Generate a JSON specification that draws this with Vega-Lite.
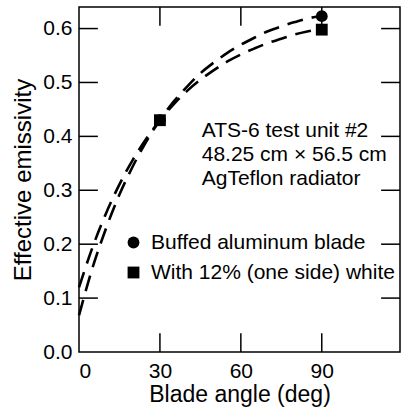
{
  "$schema": "https://vega.github.io/schema/vega-lite/v6.json",
  "width": 321,
  "height": 345,
  "autosize": {"type": "none"},
  "padding": {"left": 79, "top": 7, "right": 1, "bottom": 58},
  "config": {
    "font": "Liberation Sans",
    "view": {"stroke": "black", "strokeWidth": 1.5, "fill": null}
  },
  "datasets": {
    "curves": [
      {"series": "Buffed aluminum blade", "angle": 0, "emissivity": 0.068},
      {"series": "Buffed aluminum blade", "angle": 5, "emissivity": 0.156},
      {"series": "Buffed aluminum blade", "angle": 10, "emissivity": 0.229},
      {"series": "Buffed aluminum blade", "angle": 15, "emissivity": 0.292},
      {"series": "Buffed aluminum blade", "angle": 20, "emissivity": 0.345},
      {"series": "Buffed aluminum blade", "angle": 25, "emissivity": 0.391},
      {"series": "Buffed aluminum blade", "angle": 30, "emissivity": 0.43},
      {"series": "Buffed aluminum blade", "angle": 35, "emissivity": 0.464},
      {"series": "Buffed aluminum blade", "angle": 40, "emissivity": 0.492},
      {"series": "Buffed aluminum blade", "angle": 45, "emissivity": 0.517},
      {"series": "Buffed aluminum blade", "angle": 50, "emissivity": 0.537},
      {"series": "Buffed aluminum blade", "angle": 55, "emissivity": 0.555},
      {"series": "Buffed aluminum blade", "angle": 60, "emissivity": 0.57},
      {"series": "Buffed aluminum blade", "angle": 65, "emissivity": 0.583},
      {"series": "Buffed aluminum blade", "angle": 70, "emissivity": 0.595},
      {"series": "Buffed aluminum blade", "angle": 75, "emissivity": 0.604},
      {"series": "Buffed aluminum blade", "angle": 80, "emissivity": 0.612},
      {"series": "Buffed aluminum blade", "angle": 85, "emissivity": 0.619},
      {"series": "Buffed aluminum blade", "angle": 88, "emissivity": 0.622},
      {"series": "With 12% (one side) white", "angle": 0, "emissivity": 0.12},
      {"series": "With 12% (one side) white", "angle": 5, "emissivity": 0.194},
      {"series": "With 12% (one side) white", "angle": 10, "emissivity": 0.257},
      {"series": "With 12% (one side) white", "angle": 15, "emissivity": 0.311},
      {"series": "With 12% (one side) white", "angle": 20, "emissivity": 0.357},
      {"series": "With 12% (one side) white", "angle": 25, "emissivity": 0.396},
      {"series": "With 12% (one side) white", "angle": 30, "emissivity": 0.43},
      {"series": "With 12% (one side) white", "angle": 35, "emissivity": 0.459},
      {"series": "With 12% (one side) white", "angle": 40, "emissivity": 0.484},
      {"series": "With 12% (one side) white", "angle": 45, "emissivity": 0.505},
      {"series": "With 12% (one side) white", "angle": 50, "emissivity": 0.523},
      {"series": "With 12% (one side) white", "angle": 55, "emissivity": 0.539},
      {"series": "With 12% (one side) white", "angle": 60, "emissivity": 0.552},
      {"series": "With 12% (one side) white", "angle": 65, "emissivity": 0.563},
      {"series": "With 12% (one side) white", "angle": 70, "emissivity": 0.573},
      {"series": "With 12% (one side) white", "angle": 75, "emissivity": 0.581},
      {"series": "With 12% (one side) white", "angle": 80, "emissivity": 0.589},
      {"series": "With 12% (one side) white", "angle": 85, "emissivity": 0.595},
      {"series": "With 12% (one side) white", "angle": 88, "emissivity": 0.598}
    ],
    "points": [
      {"series": "Buffed aluminum blade", "angle": 30, "emissivity": 0.43},
      {"series": "Buffed aluminum blade", "angle": 90, "emissivity": 0.623},
      {"series": "With 12% (one side) white", "angle": 30, "emissivity": 0.43},
      {"series": "With 12% (one side) white", "angle": 90, "emissivity": 0.598}
    ],
    "notes": [
      {"angle": 45.5, "emissivity": 0.398, "text": "ATS-6 test unit #2"},
      {"angle": 45.5, "emissivity": 0.354, "text": "48.25 cm × 56.5 cm"},
      {"angle": 45.5, "emissivity": 0.31, "text": "AgTeflon radiator"}
    ],
    "xticks": [{"angle": 30}, {"angle": 60}, {"angle": 90}],
    "yticks": [{"emissivity": 0.1}, {"emissivity": 0.2}, {"emissivity": 0.3}, {"emissivity": 0.4}, {"emissivity": 0.5}, {"emissivity": 0.6}]
  },
  "layer": [
    {
      "data": {"name": "xticks"},
      "mark": {"type": "rule", "color": "black", "strokeWidth": 1.5},
      "encoding": {
        "x": {"field": "angle", "type": "quantitative", "scale": {"domain": [0, 119], "nice": false, "zero": false},
              "axis": {"orient": "bottom", "values": [0, 30, 60, 90], "format": "d", "title": "Blade angle (deg)",
                       "ticks": false, "tickSize": 0, "domain": false, "grid": false,
                       "labelPadding": 8, "labelFontSize": 21, "labelColor": "black", "labelFont": "Liberation Sans",
                       "titleFontSize": 23, "titleFontWeight": "normal", "titleColor": "black", "titleFont": "Liberation Sans", "titlePadding": 2}},
        "y": {"datum": 0, "type": "quantitative", "scale": {"domain": [0, 0.64], "nice": false},
              "axis": {"orient": "left", "values": [0, 0.1, 0.2, 0.3, 0.4, 0.5, 0.6], "format": ".1f", "title": "Effective emissivity",
                       "ticks": false, "tickSize": 0, "domain": false, "grid": false,
                       "labelPadding": 7, "labelFontSize": 21, "labelColor": "black", "labelFont": "Liberation Sans",
                       "titleFontSize": 24, "titleFontWeight": "normal", "titleColor": "black", "titleFont": "Liberation Sans", "titlePadding": 7}},
        "y2": {"datum": 0.035}
      }
    },
    {
      "data": {"name": "xticks"},
      "mark": {"type": "rule", "color": "black", "strokeWidth": 1.5},
      "encoding": {
        "x": {"field": "angle", "type": "quantitative"},
        "y": {"datum": 0.64, "type": "quantitative"},
        "y2": {"datum": 0.605}
      }
    },
    {
      "data": {"name": "yticks"},
      "mark": {"type": "rule", "color": "black", "strokeWidth": 1.5},
      "encoding": {
        "y": {"field": "emissivity", "type": "quantitative"},
        "x": {"datum": 0, "type": "quantitative"},
        "x2": {"datum": 7}
      }
    },
    {
      "data": {"name": "yticks"},
      "mark": {"type": "rule", "color": "black", "strokeWidth": 1.5},
      "encoding": {
        "y": {"field": "emissivity", "type": "quantitative"},
        "x": {"datum": 119, "type": "quantitative"},
        "x2": {"datum": 112}
      }
    },
    {
      "data": {"name": "curves"},
      "mark": {"type": "line", "color": "black", "strokeWidth": 2.6, "strokeDash": [16, 9], "interpolate": "monotone"},
      "encoding": {
        "x": {"field": "angle", "type": "quantitative"},
        "y": {"field": "emissivity", "type": "quantitative"},
        "detail": {"field": "series", "type": "nominal"}
      }
    },
    {
      "data": {"name": "points"},
      "mark": {"type": "point", "filled": true, "color": "black", "opacity": 1, "size": 140},
      "encoding": {
        "x": {"field": "angle", "type": "quantitative"},
        "y": {"field": "emissivity", "type": "quantitative"},
        "shape": {"field": "series", "type": "nominal",
                  "scale": {"domain": ["Buffed aluminum blade", "With 12% (one side) white"], "range": ["circle", "square"]},
                  "legend": {"orient": "none", "legendX": 44, "legendY": 225, "title": null, "padding": 0,
                             "labelFontSize": 21, "labelFont": "Liberation Sans", "labelColor": "black", "labelLimit": 0,
                             "symbolSize": 140, "symbolFillColor": "black", "symbolStrokeColor": "black", "symbolType": "circle",
                             "labelOffset": 7, "rowPadding": 8}}
      }
    },
    {
      "data": {"name": "notes"},
      "mark": {"type": "text", "align": "left", "baseline": "alphabetic", "fontSize": 21, "font": "Liberation Sans", "color": "black"},
      "encoding": {
        "x": {"field": "angle", "type": "quantitative"},
        "y": {"field": "emissivity", "type": "quantitative"},
        "text": {"field": "text"}
      }
    }
  ]
}
